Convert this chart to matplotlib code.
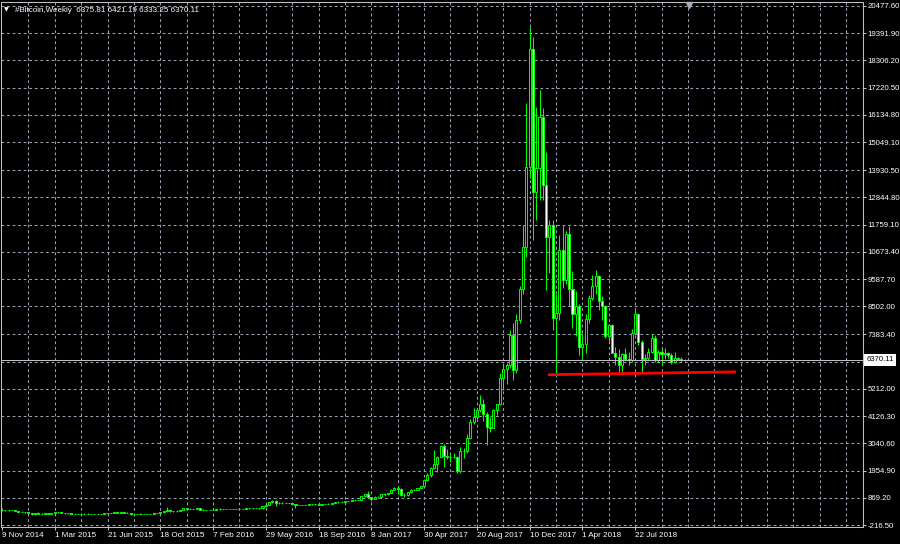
#!/usr/bin/env python3
"""Weekly Bitcoin candlesticks drawn in a MetaTrader-style green-on-black terminal look."""

import matplotlib

matplotlib.use("Agg")
import matplotlib.pyplot as plt
import numpy as np


# weekly bars, oldest first (bar 0 = week of 9 Nov 2014, last bar = current week)
OPEN = [
    362, 376, 366, 376, 375, 350, 320, 317, 285, 270,
    210, 255, 230, 225, 258, 235, 255, 290, 285, 260,
    250, 255, 235, 222, 230, 240, 240, 236, 240, 228,
    227, 233, 245, 250, 270, 290, 280, 290, 280, 262,
    230, 229, 235, 230, 231, 235, 238, 250, 265, 285,
    325, 380, 330, 325, 360, 395, 460, 440, 420, 430,
    450, 385, 390, 375, 372, 385, 435, 430, 415, 410,
    410, 415, 420, 420, 428, 445, 455, 460, 455, 445,
    525, 575, 685, 750, 665, 680, 660, 665, 655, 625,
    590, 570, 580, 570, 605, 605, 605, 600, 610, 617,
    640, 655, 700, 710, 705, 740, 730, 765, 775, 790,
    925, 1000, 900, 820, 920, 920, 1020, 1000, 1055, 1180,
    1270, 1230, 970, 960, 1090, 1180, 1180, 1250, 1340, 1560,
    1760, 2040, 2200, 2500, 2950, 2550, 2500, 2500, 2500, 1950,
    2750, 2750, 3250, 3900, 4100, 4350, 4600, 4200, 3700, 3650,
    4350, 4600, 5650, 6000, 6150, 7350, 5950, 7950, 9200, 10880,
    14070, 18750, 13070, 14000, 16060, 13340, 11280, 11750, 8050, 8250,
    10750, 9550, 11400, 9200, 8200, 8500, 6900, 7000, 8000, 8850,
    9300, 9700, 8700, 8500, 7300, 7750, 6650, 6500, 6150, 6600,
    6400, 6350, 7450, 8200, 7100, 6400, 6450, 6700, 7250, 6350,
    6700, 6600, 6650, 6550, 6300, 6450, 6420, 6375.81,
]
HIGH = [
    455, 398, 385, 385, 378, 352, 335, 322, 300, 275,
    265, 310, 245, 265, 262, 260, 300, 298, 290, 275,
    262, 262, 240, 240, 245, 245, 245, 242, 242, 232,
    237, 252, 252, 275, 300, 320, 298, 298, 285, 268,
    235, 240, 245, 235, 240, 240, 250, 272, 290, 335,
    500, 390, 340, 370, 400, 470, 470, 460, 435, 465,
    455, 410, 400, 380, 390, 440, 445, 440, 420, 418,
    420, 425, 425, 430, 450, 470, 465, 465, 460, 530,
    590, 700, 780, 770, 700, 690, 680, 675, 660, 630,
    600, 585, 585, 610, 630, 612, 610, 612, 620, 645,
    660, 720, 740, 740, 755, 745, 775, 780, 795, 930,
    1000, 1150, 915, 930, 930, 1030, 1060, 1060, 1200, 1290,
    1330, 1260, 1070, 1100, 1210, 1200, 1260, 1350, 1600, 1850,
    2100, 2780, 2550, 2950, 3000, 2800, 2600, 2650, 2550, 2900,
    2850, 3400, 4000, 4450, 4450, 4950, 4800, 4300, 4100, 4400,
    4600, 5850, 6150, 6250, 7550, 7850, 8200, 9300, 11750, 16600,
    19630, 19250, 16450, 17130, 16400, 14670, 11950, 11950, 9000, 11350,
    11750, 11500, 11700, 9900, 9100, 8600, 7450, 8200, 8950, 9750,
    9950, 9750, 8900, 8550, 7800, 7800, 6900, 6800, 6650, 6850,
    6700, 7600, 8450, 8250, 7150, 6600, 6850, 7400, 7350, 6750,
    6800, 6850, 6700, 6650, 6700, 6500, 6470, 6421.19,
]
LOW = [
    355, 345, 360, 362, 345, 305, 315, 270, 262, 170,
    200, 225, 212, 215, 230, 230, 250, 270, 255, 240,
    240, 230, 215, 216, 215, 232, 232, 232, 226, 222,
    222, 230, 240, 245, 265, 275, 270, 278, 258, 200,
    210, 225, 225, 225, 226, 233, 236, 245, 260, 280,
    310, 300, 310, 315, 355, 390, 430, 415, 415, 425,
    365, 370, 365, 365, 370, 380, 400, 405, 405, 405,
    405, 410, 415, 418, 425, 440, 440, 450, 440, 440,
    520, 570, 680, 560, 605, 630, 645, 650, 620, 480,
    570, 565, 565, 565, 600, 600, 590, 595, 605, 615,
    630, 650, 680, 700, 700, 725, 725, 760, 765, 785,
    895, 880, 750, 810, 880, 915, 930, 990, 1050, 1170,
    1000, 950, 890, 940, 1070, 1160, 1170, 1240, 1340, 1550,
    1700, 2000, 1900, 2480, 2100, 2400, 2300, 2450, 1850, 1850,
    2450, 2650, 3200, 3800, 3950, 4300, 3950, 2980, 3500, 3650,
    4150, 4550, 5150, 5400, 6050, 5550, 5850, 7850, 9000, 10480,
    13600, 11150, 11950, 12740, 12740, 9150, 9820, 7560, 5830, 7960,
    9220, 9400, 8500, 7650, 7300, 6550, 6450, 6650, 7850, 8750,
    9000, 8350, 7950, 7250, 7050, 6650, 6150, 5900, 5800, 6350,
    6150, 6300, 7350, 6950, 5900, 6150, 6350, 6650, 6300, 6300,
    6150, 6400, 6450, 6200, 6250, 6380, 6300, 6333.25,
]
CLOSE = [
    376, 366, 376, 375, 350, 320, 317, 285, 270, 210,
    255, 230, 225, 258, 235, 255, 290, 285, 260, 250,
    255, 235, 222, 230, 240, 240, 236, 240, 228, 227,
    233, 245, 250, 270, 290, 280, 290, 280, 262, 230,
    229, 235, 230, 231, 235, 238, 250, 265, 285, 325,
    380, 330, 325, 360, 395, 460, 440, 420, 430, 450,
    385, 390, 375, 372, 385, 435, 430, 415, 410, 410,
    415, 420, 420, 428, 445, 455, 460, 455, 445, 525,
    575, 685, 750, 665, 680, 660, 665, 655, 625, 590,
    570, 580, 570, 605, 605, 605, 600, 610, 617, 640,
    655, 700, 710, 705, 740, 730, 765, 775, 790, 925,
    1000, 900, 820, 920, 920, 1020, 1000, 1055, 1180, 1270,
    1230, 970, 960, 1090, 1180, 1180, 1250, 1340, 1560, 1760,
    2040, 2200, 2500, 2950, 2550, 2500, 2500, 2500, 1950, 2750,
    2750, 3250, 3900, 4100, 4350, 4600, 4200, 3700, 3650, 4350,
    4600, 5650, 6000, 6150, 7350, 5950, 7950, 9200, 10880, 14070,
    18750, 13070, 14000, 16060, 13340, 11280, 11750, 8050, 8250, 10750,
    9550, 11400, 9200, 8200, 8500, 6900, 7000, 8000, 8850, 9300,
    9700, 8700, 8500, 7300, 7750, 6650, 6500, 6150, 6600, 6400,
    6350, 7450, 8200, 7100, 6400, 6450, 6700, 7250, 6350, 6700,
    6600, 6650, 6550, 6300, 6450, 6420, 6375, 6370.11,
]

DATE_LABELS = [
    "9 Nov 2014", "1 Mar 2015", "21 Jun 2015", "18 Oct 2015", "7 Feb 2016",
    "29 May 2016", "18 Sep 2016", "8 Jan 2017", "30 Apr 2017", "20 Aug 2017",
    "10 Dec 2017", "1 Apr 2018", "22 Jul 2018",
]
DATE_TICKS = list(range(0, 16 * len(DATE_LABELS), 16))  # one label every 16 bars
PRICE_LEVELS = [
    20477.60, 19391.90, 18306.20, 17220.50, 16134.80, 15049.10, 13930.50,
    12844.80, 11759.10, 10673.40, 9587.70, 8502.00, 7383.40, 6297.70,
    5212.00, 4126.30, 3040.60, 1954.90, 869.20, -216.50,
]
CURRENT_PRICE = 6370.11
HEADER = "#Bitcoin,Weekly  6375.81 6421.19 6333.25 6370.11"

# support line drawn on the chart (bar index, price)
TREND_X = [165.6, 222.6]
TREND_Y = [5776, 5890]

BG = "black"
CANDLE = "#00ff00"
GRID = "#98a2b3"
FRAME = "#c0c0c0"
TEXT = "white"


def main() -> None:
    plt.rcParams.update(
        {
            "font.family": ["Liberation Sans", "DejaVu Sans"],
            "font.size": 5.6,
            "lines.scale_dashes": False,
        }
    )

    fig = plt.figure(figsize=(9, 5.44), dpi=100, facecolor=BG)
    ax = fig.add_axes([1 / 900, 17.5 / 544, 862 / 900, 524.5 / 544])
    ax.set_facecolor(BG)
    ax.set_xlim(-0.3, 261.1)
    ax.set_ylim(-276, 20636)

    # grid
    dash = (0, (2.0, 2.0))
    for lvl in PRICE_LEVELS:
        ax.axhline(lvl, color=GRID, lw=0.75, ls=dash, zorder=1)
    for gx in range(8, 261, 8):
        ax.axvline(gx, color=GRID, lw=0.75, ls=dash, zorder=1)

    # candles
    o, h, l, c = (np.asarray(a, dtype=float) for a in (OPEN, HIGH, LOW, CLOSE))
    x = np.arange(len(c))
    ax.vlines(x, l, h, color=CANDLE, lw=0.75, zorder=2)
    up = c >= o
    ax.bar(
        x,
        np.abs(c - o),
        bottom=np.minimum(o, c),
        width=0.62,
        color=np.where(up, "black", "white"),
        edgecolor=CANDLE,
        linewidth=0.7,
        zorder=3,
    )

    # bid line and support line
    ax.axhline(CURRENT_PRICE, color=FRAME, lw=0.75, zorder=4)
    ax.plot(TREND_X, TREND_Y, color="#ff0000", lw=2.0, solid_capstyle="butt", zorder=5)

    for spine in ax.spines.values():
        spine.set_color(FRAME)
        spine.set_linewidth(0.75)

    # the level right under the bid tag has its label hidden by the tag
    ylabels = ["" if abs(v - CURRENT_PRICE) < 300 else f"{v:.2f}" for v in PRICE_LEVELS]
    ax.yaxis.tick_right()
    ax.set_yticks(PRICE_LEVELS)
    ax.set_yticklabels(ylabels)
    ax.tick_params(axis="y", colors=FRAME, labelcolor=TEXT, length=2.2,
                   width=0.75, pad=1.0, labelsize=5.6)
    ax.set_xticks(DATE_TICKS)
    ax.set_xticklabels(DATE_LABELS, ha="left")
    ax.tick_params(axis="x", colors=FRAME, labelcolor=TEXT, length=2.5,
                   width=0.75, pad=1.5, labelsize=5.9)

    # current price tag on the price scale
    ax.annotate(
        f"{CURRENT_PRICE:.2f}",
        xy=(1, CURRENT_PRICE),
        xycoords=ax.get_yaxis_transform(),
        xytext=(2.6, 0),
        textcoords="offset points",
        ha="left",
        va="center",
        color="black",
        fontsize=5.6,
        bbox=dict(boxstyle="square,pad=0.3", fc="white", ec="none"),
        annotation_clip=False,
        zorder=10,
    )

    # chart header and shift marker
    fig.text(4 / 900, 1 - 10 / 544, "\u25bc", color=TEXT, fontsize=4.5,
             va="center", family=["DejaVu Sans"])
    fig.text(15 / 900, 1 - 10 / 544, HEADER, color=TEXT, va="center", fontsize=5.8)
    ax.plot([len(CLOSE) + 0.3], [0.994], marker="v", ms=4, color="#a8b0bc",
            transform=ax.get_xaxis_transform(), clip_on=False, zorder=6)

    fig.savefig("out.png", dpi=100, facecolor=BG)
    plt.close(fig)


if __name__ == "__main__":
    main()
